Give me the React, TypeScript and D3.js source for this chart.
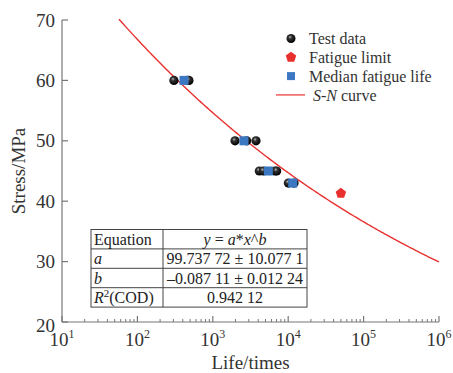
import React from 'react'
import * as d3 from 'd3'

// Test data (life in cycles, stress in MPa)
const testLife = [305, 455, 483, 1970, 2810, 3740, 4140, 4680, 6690, 7030, 10050, 11950]
const testStress = [60, 60, 60, 50, 50, 50, 45, 45, 45, 45, 43, 43]

// Median fatigue life per stress level
const medianLife = [415, 2590, 5450, 11480]
const medianStress = [60, 50, 45, 43]

// Fatigue limit
const limitLife = [50000]
const limitStress = [41.3]

// Fit parameters y = a * x^b
const fitA = 99.73772
const fitB = -0.08711
const curveStart = 57
const curveEnd = 1e6

const yTicks = [20, 30, 40, 50, 60, 70]
const xDecades = [1, 2, 3, 4, 5, 6]

const tableRows = [
  ['Equation', 'y = a*x^b'],
  ['a', '99.737 72 \u00b1 10.077 1'],
  ['b', '\u20130.087 11 \u00b1 0.012 24'],
  ['R2(COD)', '0.942 12'],
]

const legendItems = ['Test data', 'Fatigue limit', 'Median fatigue life', 'S-N curve']

const W = 453
const H = 373
const margin = { left: 62, right: 14, top: 20, bottom: 51 }
const font = '"Liberation Serif", "Times New Roman", serif'
const axisColor = '#777'

export default function App() {
  const x = d3.scaleLog().domain([10, 1e6]).range([margin.left, W - margin.right])
  const y = d3.scaleLinear().domain([20, 70]).range([H - margin.bottom, margin.top])

  const curvePts: [number, number][] = d3
    .range(0, 201)
    .map(i => {
      const lx = Math.log10(curveStart) + (i / 200) * (Math.log10(curveEnd) - Math.log10(curveStart))
      const xv = Math.pow(10, lx)
      return [xv, fitA * Math.pow(xv, fitB)]
    })
  const line = d3.line<[number, number]>().x(d => x(d[0])).y(d => y(d[1]))

  const minorTicks: number[] = []
  for (let e = 1; e < 6; e++) for (let k = 2; k < 10; k++) minorTicks.push(k * Math.pow(10, e))

  const x0 = x.range()[0]
  const x1 = x.range()[1]
  const yb = y.range()[0]

  const pentagon = (cx: number, cy: number, r: number) =>
    d3.range(5).map(i => {
      const a = -Math.PI / 2 + (i * 2 * Math.PI) / 5
      return `${cx + r * Math.cos(a)},${cy + r * Math.sin(a)}`
    }).join(' ')

  // table geometry
  const tx = 91
  const ty = 229.5
  const tw = 216
  const col = 72
  const rh = 19.4

  const legX = 291
  const legY = 38.5
  const legStep = 18.8

  return (
    <div style={{ position: 'absolute', left: 0, top: 0 }}>
      <svg width={W} height={H} style={{ display: 'block', background: '#fff', fontFamily: font }}>
        <defs>
          <radialGradient id="ball" cx="40%" cy="35%" r="65%">
            <stop offset="0%" stopColor="#bbb" />
            <stop offset="30%" stopColor="#333" />
            <stop offset="100%" stopColor="#000" />
          </radialGradient>
        </defs>

        {/* axes */}
        <line x1={x0} x2={x0} y1={y(70)} y2={yb} stroke={axisColor} strokeWidth={1.2} />
        <line x1={x0} x2={x1} y1={yb} y2={yb} stroke={axisColor} strokeWidth={1.2} />
        {yTicks.map(t => (
          <g key={t}>
            <line x1={x0} x2={x0 + 6} y1={y(t)} y2={y(t)} stroke={axisColor} strokeWidth={1.2} />
            <text x={x0 - 7} y={y(t) + (t === 20 ? 3 : 0)} dy="0.35em" textAnchor="end" fontSize={19} fill="#333">{t}</text>
          </g>
        ))}
        {minorTicks.map(t => (
          <line key={t} x1={x(t)} x2={x(t)} y1={yb} y2={yb - 3} stroke={axisColor} strokeWidth={1} />
        ))}
        {xDecades.map(e => (
          <g key={e}>
            <line x1={x(Math.pow(10, e))} x2={x(Math.pow(10, e))} y1={yb} y2={yb - 6} stroke={axisColor} strokeWidth={1.2} />
            <text x={x(Math.pow(10, e))} y={yb + 24} textAnchor="middle" fontSize={19} fill="#333">
              10<tspan dy={-8} fontSize={12}>{e}</tspan>
            </text>
          </g>
        ))}
        <text x={(x0 + x1) / 2} y={369} textAnchor="middle" fontSize={19} fill="#333">Life/times</text>
        <text transform={`translate(25,${(y(70) + yb) / 2}) rotate(-90)`} textAnchor="middle" fontSize={19} fill="#333">Stress/MPa</text>

        {/* S-N curve */}
        <path d={line(curvePts) || ''} fill="none" stroke="#e8302f" strokeWidth={1.4} />

        {/* test data */}
        {testLife.map((l, i) => (
          <circle key={i} cx={x(l)} cy={y(testStress[i])} r={4.6} fill="url(#ball)" />
        ))}
        {medianLife.map((l, i) => (
          <rect key={i} x={x(l) - 4.5} y={y(medianStress[i]) - 4.5} width={9} height={9} fill="#3b78c1" />
        ))}
        {limitLife.map((l, i) => (
          <polygon key={i} points={pentagon(x(l), y(limitStress[i]), 5.5)} fill="#e8302f" />
        ))}

        {/* legend */}
        <circle cx={legX} cy={legY} r={4.5} fill="url(#ball)" />
        <polygon points={pentagon(legX, legY + legStep, 5.5)} fill="#e8302f" />
        <rect x={legX - 4} y={legY + 2 * legStep - 4} width={8} height={8} fill="#3b78c1" />
        <line x1={276} x2={305} y1={legY + 3 * legStep} y2={legY + 3 * legStep} stroke="#e8302f" strokeOpacity={0.75} strokeWidth={1.6} />
        {legendItems.map((s, i) => (
          <text key={s} x={i === 3 ? 313 : 309} y={legY + i * legStep} dy="0.35em" fontSize={16} fill="#333">
            {i === 3 ? (<><tspan fontStyle="italic">S</tspan>-<tspan fontStyle="italic">N</tspan> curve</>) : s}
          </text>
        ))}

        {/* parameter table */}
        <g stroke="#444" strokeWidth={1} fill="none">
          <rect x={tx} y={ty} width={tw} height={rh * 4} />
          <line x1={tx + col} x2={tx + col} y1={ty} y2={ty + rh * 4} />
          {[1, 2, 3].map(i => (
            <line key={i} x1={tx} x2={tx + tw} y1={ty + rh * i} y2={ty + rh * i} />
          ))}
        </g>
        {tableRows.map((r, i) => {
          const cy = ty + rh * i + rh / 2
          return (
            <g key={i} fontSize={16} fill="#222">
              <text x={tx + 3} y={cy} dy="0.35em" fontStyle={i === 1 || i === 2 ? 'italic' : 'normal'}>
                {i === 3 ? (<><tspan fontStyle="italic">R</tspan><tspan dy={-6} fontSize={11}>2</tspan><tspan dy={6}>(COD)</tspan></>) : r[0]}
              </text>
              <text x={tx + col + (tw - col) / 2} y={cy} dy="0.35em" textAnchor="middle">
                {i === 0 ? (<><tspan fontStyle="italic">y</tspan> = <tspan fontStyle="italic">a</tspan>*<tspan fontStyle="italic">x</tspan>^<tspan fontStyle="italic">b</tspan></>) : r[1]}
              </text>
            </g>
          )
        })}
      </svg>
    </div>
  )
}
